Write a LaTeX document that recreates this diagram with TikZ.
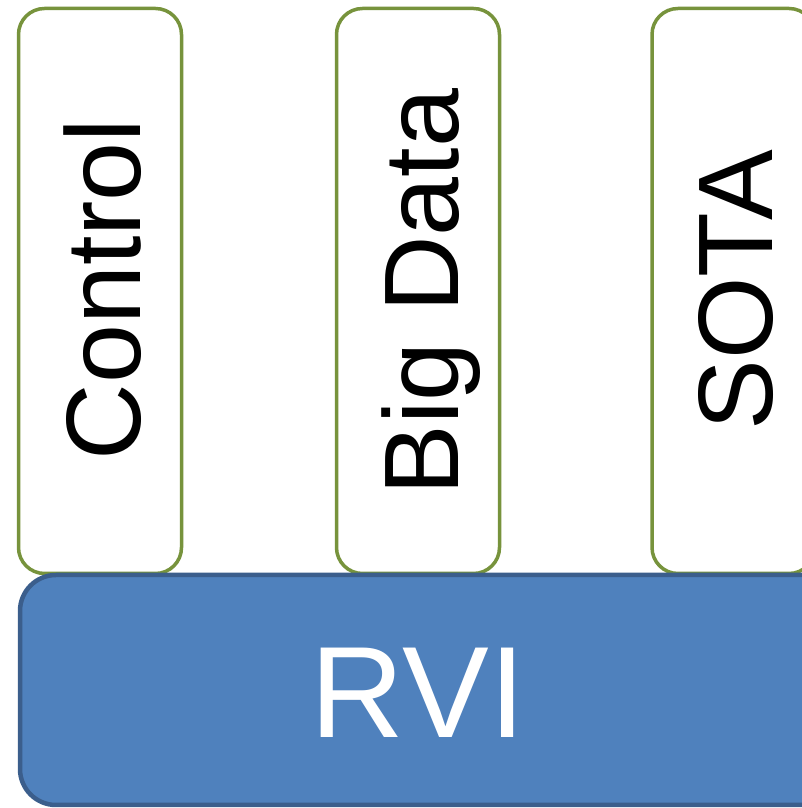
\documentclass[tikz,border=0pt]{standalone}
\usepackage{fontspec}
\setmainfont{Liberation Sans}
\definecolor{gborder}{HTML}{77933C}
\definecolor{bfill}{HTML}{4F81BD}
\definecolor{bborder}{HTML}{3B5E8C}
\begin{document}
\begin{tikzpicture}[x=1pt,y=1pt,
  topbox/.style={draw=gborder, line width=3.5pt, fill=white, rounded corners=26pt,
    minimum width=163pt, minimum height=565pt, inner sep=0pt, outer sep=0pt},
  toplabel/.style={rotate=90, anchor=base, inner sep=0pt, font=\fontsize{106}{120}\selectfont},
  basebox/.style={draw=bborder, line width=4.5pt, fill=bfill, rounded corners=36pt,
    minimum width=840pt, minimum height=230pt, inner sep=0pt, outer sep=0pt},
  baselabel/.style={anchor=base, inner sep=0pt, text=white, font=\fontsize{130}{150}\selectfont}]
\useasboundingbox (0,0) rectangle (802,808);
\clip (0,0) rectangle (802,808);
\fill[white] (0,0) rectangle (802,808);
\node[topbox] (control) at (100,517) {};
\node[topbox] (bigdata) at (418,517) {};
\node[topbox] (sota) at (733.5,517) {};
\node[toplabel] (controlt) at (140,518.5) {Control};
\node[toplabel] (bigdatat) at (458,516) {Big Data};
\node[toplabel] (sotat) at (772,518) {SOTA};
\node[basebox] (rvi) at (440,118) {};
\node[baselabel] (rvit) at (418,70) {RVI};
\end{tikzpicture}
\end{document}
